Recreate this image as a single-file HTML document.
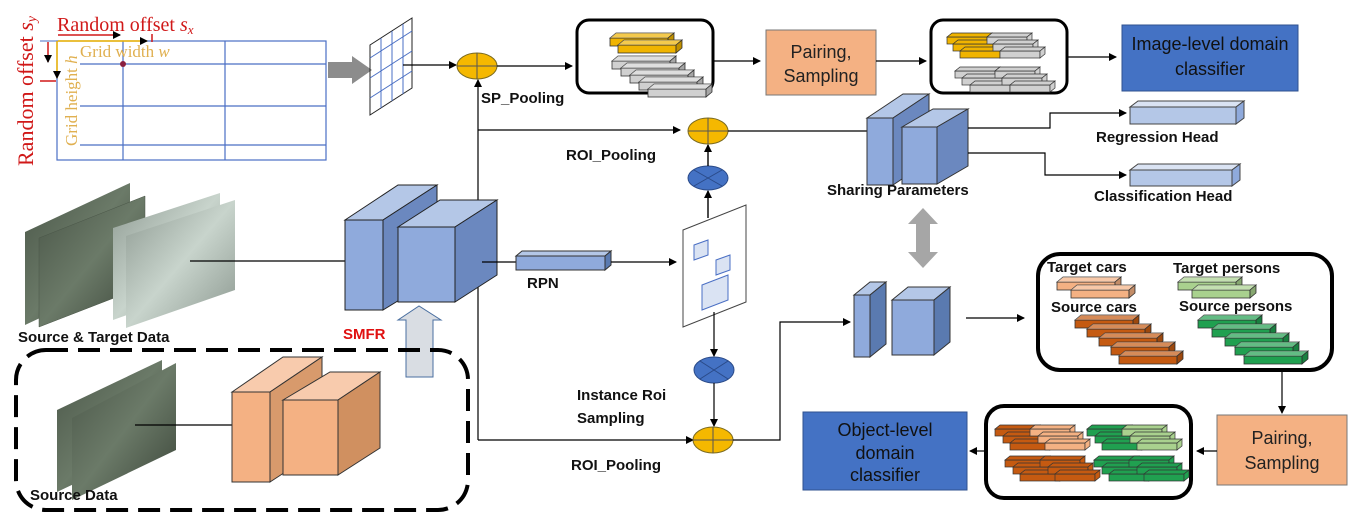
<!DOCTYPE html>
<html><head><meta charset="utf-8"><style>
html,body{margin:0;padding:0;background:#fff;}
svg{display:block;font-family:"Liberation Sans",Arial,sans-serif;}
.b{font-weight:bold;font-size:15px;fill:#111;}
.ser{font-family:"Liberation Serif",serif;}
</style></head><body>
<svg width="1356" height="522" viewBox="0 0 1356 522" xmlns="http://www.w3.org/2000/svg">
<defs>
<marker id="ah" markerWidth="8" markerHeight="8" refX="7" refY="4" orient="auto" markerUnits="userSpaceOnUse"><path d="M0,0 L8,4 L0,8 z" fill="#000"/></marker>
<symbol id="bar" overflow="visible"><rect x="0" y="5" width="58" height="8" fill="currentColor" stroke="#333" stroke-width="0.8"/><polygon points="0,5 6,0 64,0 58,5" fill="currentColor" stroke="#333" stroke-width="0.8"/><polygon points="0,5 6,0 64,0 58,5" fill="#fff" opacity="0.3"/><polygon points="58,5 64,0 64,8 58,13" fill="currentColor" stroke="#333" stroke-width="0.8"/><polygon points="58,5 64,0 64,8 58,13" fill="#000" opacity="0.2"/></symbol>
<symbol id="sbar" overflow="visible"><rect x="0" y="4" width="40" height="7" fill="currentColor" stroke="#333" stroke-width="0.7"/><polygon points="0,4 5,0 45,0 40,4" fill="currentColor" stroke="#333" stroke-width="0.7"/><polygon points="40,4 45,0 45,7 40,11" fill="currentColor" stroke="#333" stroke-width="0.7"/></symbol>
<linearGradient id="dk" x1="0" y1="0" x2="1" y2="1"><stop offset="0" stop-color="#4a5648"/><stop offset="0.5" stop-color="#6b7a68"/><stop offset="1" stop-color="#3a4438"/></linearGradient>
<linearGradient id="lt" x1="0" y1="0" x2="1" y2="1"><stop offset="0" stop-color="#8e9a92"/><stop offset="0.5" stop-color="#c8d4cc"/><stop offset="1" stop-color="#8a968e"/></linearGradient>
</defs>

<rect x="57" y="41" width="269" height="119" fill="none" stroke="#4a6fc4" stroke-width="1.2"/>
<line x1="123" y1="41" x2="123" y2="160" stroke="#4a6fc4" stroke-width="1.2"/>
<line x1="225" y1="41" x2="225" y2="160" stroke="#4a6fc4" stroke-width="1.2"/>
<line x1="80" y1="64" x2="326" y2="64" stroke="#4a6fc4" stroke-width="1.2"/>
<line x1="80" y1="106" x2="326" y2="106" stroke="#4a6fc4" stroke-width="1.2"/>
<line x1="80" y1="145" x2="326" y2="145" stroke="#4a6fc4" stroke-width="1.2"/>
<line x1="40" y1="41" x2="57" y2="41" stroke="#4a6fc4"/>
<circle cx="123" cy="64" r="3" fill="#8a2040"/>
<line x1="58" y1="35" x2="120" y2="35" stroke="#d01818" stroke-width="1.5" marker-end="url(#ah)"/>
<line x1="152" y1="34" x2="152" y2="42" stroke="#d01818" stroke-width="1.5"/>
<line x1="58" y1="41" x2="147" y2="41" stroke="#f0b400" stroke-width="1.5" marker-end="url(#ah)"/>
<line x1="57" y1="41" x2="57" y2="78" stroke="#f0b400" stroke-width="1.5" marker-end="url(#ah)"/>
<line x1="48" y1="42" x2="48" y2="62" stroke="#d01818" stroke-width="1.5" marker-end="url(#ah)"/>
<line x1="40" y1="81" x2="56" y2="81" stroke="#d01818" stroke-width="1.5"/>
<text x="57" y="31" class="ser" font-size="20" fill="#d01818">Random offset <tspan font-style="italic">s<tspan font-size="13" dy="3">x</tspan></tspan></text>
<text x="80" y="57" class="ser" font-size="17" fill="#e0b050">Grid width <tspan font-style="italic">w</tspan></text>
<text transform="translate(77,146) rotate(-90)" class="ser" font-size="17" fill="#e0b050">Grid height <tspan font-style="italic">h</tspan></text>
<text transform="translate(33,166) rotate(-90)" class="ser" font-size="22" fill="#d01818">Random offset <tspan font-style="italic">s<tspan font-size="14" dy="3">y</tspan></tspan></text>

<polygon points="328,62 352,62 352,56 372,70 352,84 352,78 328,78" fill="#8c8c8c"/>
<g stroke="#4a6fc4" stroke-width="1" fill="none">
<polygon points="370,45 412,18 412,88 370,115" stroke="#222"/>
<line x1="381" y1="38" x2="381" y2="108"/><line x1="392" y1="31" x2="392" y2="101"/><line x1="403" y1="24" x2="403" y2="94"/>
<line x1="370" y1="58" x2="412" y2="31"/><line x1="370" y1="78" x2="412" y2="51"/><line x1="370" y1="98" x2="412" y2="71"/>
</g>
<line x1="403" y1="65" x2="456" y2="65" stroke="#000" stroke-width="1.2" marker-end="url(#ah)"/>
<ellipse cx="477" cy="66" rx="20" ry="13" fill="#f5b800" stroke="#7a6a20"/>
<line x1="457" y1="66" x2="497" y2="66" stroke="#555"/><line x1="477" y1="53" x2="477" y2="79" stroke="#555"/>
<text x="481" y="103" class="b">SP_Pooling</text>
<line x1="497" y1="66" x2="572" y2="66" stroke="#000" stroke-width="1.2" marker-end="url(#ah)"/>

<rect x="577" y="20" width="136" height="73" rx="12" fill="#fff" stroke="#000" stroke-width="3"/>
<g color="#f0b400"><use href="#bar" x="610" y="33"/><use href="#bar" x="618" y="40"/></g>
<g color="#d0d0d0"><use href="#bar" x="612" y="56"/><use href="#bar" x="621" y="63"/><use href="#bar" x="630" y="70"/><use href="#bar" x="639" y="77"/><use href="#bar" x="648" y="84" /></g>
<line x1="713" y1="61" x2="760" y2="61" stroke="#000" stroke-width="1.2" marker-end="url(#ah)"/>
<rect x="766" y="30" width="110" height="65" fill="#f4b183" stroke="#777"/>
<text x="821" y="58" text-anchor="middle" font-size="18" fill="#222">Pairing,</text>
<text x="821" y="82" text-anchor="middle" font-size="18" fill="#222">Sampling</text>
<line x1="876" y1="61" x2="926" y2="61" stroke="#000" stroke-width="1.2" marker-end="url(#ah)"/>
<rect x="931" y="20" width="136" height="73" rx="12" fill="#fff" stroke="#000" stroke-width="3"/>
<g color="#f0b400"><use href="#sbar" x="947" y="33"/><use href="#sbar" x="953" y="40"/><use href="#sbar" x="960" y="47"/></g>
<g color="#d0d0d0"><use href="#sbar" x="987" y="33"/><use href="#sbar" x="993" y="40"/><use href="#sbar" x="1000" y="47"/></g>
<g color="#d0d0d0"><use href="#sbar" x="955" y="67"/><use href="#sbar" x="962" y="74"/><use href="#sbar" x="970" y="81"/><use href="#sbar" x="995" y="67"/><use href="#sbar" x="1002" y="74"/><use href="#sbar" x="1010" y="81"/></g>
<line x1="1067" y1="57" x2="1116" y2="57" stroke="#000" stroke-width="1.2" marker-end="url(#ah)"/>
<rect x="1122" y="25" width="176" height="66" fill="#4472c4" stroke="#2f528f"/>
<text x="1210" y="50" text-anchor="middle" font-size="18" fill="#111">Image-level domain</text>
<text x="1210" y="75" text-anchor="middle" font-size="18" fill="#111">classifier</text>

<polyline points="478,440 478,80" fill="none" stroke="#000" stroke-width="1.2" marker-end="url(#ah)"/>
<line x1="478" y1="130" x2="680" y2="130" stroke="#000" stroke-width="1.2" marker-end="url(#ah)"/>
<ellipse cx="708" cy="131" rx="20" ry="13" fill="#f5b800" stroke="#7a6a20"/>
<line x1="688" y1="131" x2="728" y2="131" stroke="#555"/><line x1="708" y1="118" x2="708" y2="144" stroke="#555"/>
<text x="566" y="160" class="b">ROI_Pooling</text>
<ellipse cx="708" cy="178" rx="20" ry="12" fill="#4472c4" stroke="#2a4a88"/>
<line x1="694" y1="170" x2="722" y2="186" stroke="#2a4a88"/><line x1="722" y1="170" x2="694" y2="186" stroke="#2a4a88"/>
<line x1="708" y1="166" x2="708" y2="145" stroke="#000" stroke-width="1.4" marker-end="url(#ah)"/>
<line x1="708" y1="218" x2="708" y2="191" stroke="#000" stroke-width="1.4" marker-end="url(#ah)"/>
<line x1="728" y1="131" x2="868" y2="131" stroke="#000" stroke-width="1.2"/>

<polygon points="867,118 903,94 929,94 893,118" fill="#b4c7e7" stroke="#333"/>
<rect x="867" y="118" width="26" height="67" fill="#8faadc" stroke="#333"/>
<polygon points="893,118 929,94 929,161 893,185" fill="#6b88bf" stroke="#333"/>
<polygon points="902,127 933,109 968,109 937,127" fill="#b4c7e7" stroke="#333"/>
<rect x="902" y="127" width="35" height="57" fill="#8faadc" stroke="#333"/>
<polygon points="937,127 968,109 968,166 937,184" fill="#6b88bf" stroke="#333"/>
<text x="827" y="195" class="b">Sharing Parameters</text>
<polyline points="968,128 1050,128 1050,113 1126,113" fill="none" stroke="#000" stroke-width="1.2" marker-end="url(#ah)"/>
<polyline points="968,153 1045,153 1045,175 1126,175" fill="none" stroke="#000" stroke-width="1.2" marker-end="url(#ah)"/>
<polygon points="1130,107 1138,101 1244,101 1236,107" fill="#dae3f3" stroke="#444"/>
<rect x="1130" y="107" width="106" height="17" fill="#b4c7e7" stroke="#444"/>
<polygon points="1236,107 1244,101 1244,118 1236,124" fill="#8faadc" stroke="#444"/>
<text x="1096" y="142" class="b">Regression Head</text>
<polygon points="1130,170 1138,164 1240,164 1232,170" fill="#dae3f3" stroke="#444"/>
<rect x="1130" y="170" width="102" height="16" fill="#b4c7e7" stroke="#444"/>
<polygon points="1232,170 1240,164 1240,180 1232,186" fill="#8faadc" stroke="#444"/>
<text x="1094" y="201" class="b">Classification Head</text>
<polygon points="923,208 938,224 930,224 930,252 938,252 923,268 908,252 916,252 916,224 908,224" fill="#a6a6a6"/>

<polygon points="25,232 130,183 130,276 25,325" fill="url(#dk)"/>
<polygon points="39,238 145,196 145,286 39,327" fill="url(#dk)" stroke="#4a5648" stroke-width="0.5"/>
<polygon points="113,320 113,228 220,193 220,282" fill="url(#lt)"/>
<polygon points="126,328 126,236 235,200 235,290" fill="url(#lt)"/>
<line x1="190" y1="261" x2="345" y2="261" stroke="#000" stroke-width="1.2"/>
<text x="18" y="342" class="b">Source &amp; Target Data</text>

<polygon points="345,220 398,185 437,185 383,220" fill="#b4c7e7" stroke="#222"/>
<rect x="345" y="220" width="38" height="90" fill="#8faadc" stroke="#222"/>
<polygon points="383,220 437,185 437,277 383,310" fill="#6b88bf" stroke="#222"/>
<polygon points="398,227 440,200 497,200 455,227" fill="#b4c7e7" stroke="#222"/>
<rect x="398" y="227" width="57" height="75" fill="#8faadc" stroke="#222"/>
<polygon points="455,227 497,200 497,275 455,302" fill="#6b88bf" stroke="#222"/>
<text x="343" y="339" font-weight="bold" font-size="15" fill="#e01010">SMFR</text>
<polygon points="406,377 406,320 398,320 419,306 441,320 433,320 433,377" fill="#d9dde3" stroke="#4a6fa0"/>

<line x1="482" y1="262" x2="516" y2="262" stroke="#000" stroke-width="1.2"/>
<polygon points="516,256 522,251 611,251 605,256" fill="#b4c7e7" stroke="#333"/>
<rect x="516" y="256" width="89" height="14" fill="#8faadc" stroke="#333"/>
<polygon points="605,256 611,251 611,265 605,270" fill="#5a7ab0" stroke="#333"/>
<text x="527" y="288" class="b">RPN</text>
<line x1="611" y1="262" x2="676" y2="262" stroke="#000" stroke-width="1.2" marker-end="url(#ah)"/>
<polygon points="683,230 746,205 746,302 683,327" fill="#fff" stroke="#444"/>
<polygon points="694,245 708,240 708,255 694,260" fill="#dae3f3" stroke="#4a6fc4"/>
<polygon points="716,260 730,255 730,270 716,275" fill="#dae3f3" stroke="#4a6fc4"/>
<polygon points="702,285 728,275 728,300 702,310" fill="#dae3f3" stroke="#4a6fc4"/>
<line x1="714" y1="312" x2="714" y2="356" stroke="#000" stroke-width="1.2" marker-end="url(#ah)"/>
<ellipse cx="714" cy="370" rx="20" ry="13" fill="#4472c4" stroke="#2a4a88"/>
<line x1="700" y1="361" x2="728" y2="379" stroke="#2a4a88"/><line x1="728" y1="361" x2="700" y2="379" stroke="#2a4a88"/>
<line x1="714" y1="383" x2="714" y2="426" stroke="#000" stroke-width="1.2" marker-end="url(#ah)"/>
<text x="577" y="400" class="b">Instance Roi</text>
<text x="577" y="423" class="b">Sampling</text>
<polyline points="478,440 693,440" fill="none" stroke="#000" stroke-width="1.2" marker-end="url(#ah)"/>
<ellipse cx="713" cy="440" rx="20" ry="13" fill="#f5b800" stroke="#7a6a20"/>
<line x1="693" y1="440" x2="733" y2="440" stroke="#555"/><line x1="713" y1="427" x2="713" y2="453" stroke="#555"/>
<text x="571" y="470" class="b">ROI_Pooling</text>
<polyline points="733,440 780,440 780,322 850,322" fill="none" stroke="#000" stroke-width="1.2" marker-end="url(#ah)"/>

<polygon points="854,295 870,282 886,282 870,295" fill="#b4c7e7" stroke="#333"/>
<rect x="854" y="295" width="16" height="62" fill="#8faadc" stroke="#333"/>
<polygon points="870,295 886,282 886,344 870,357" fill="#5a7ab0" stroke="#333"/>
<polygon points="892,300 908,287 950,287 934,300" fill="#b4c7e7" stroke="#333"/>
<rect x="892" y="300" width="42" height="55" fill="#8faadc" stroke="#333"/>
<polygon points="934,300 950,287 950,342 934,355" fill="#5a7ab0" stroke="#333"/>
<line x1="966" y1="318" x2="1024" y2="318" stroke="#000" stroke-width="1.2" marker-end="url(#ah)"/>

<rect x="1038" y="254" width="294" height="116" rx="22" fill="#fff" stroke="#000" stroke-width="4"/>
<text x="1047" y="272" class="b">Target cars</text>
<text x="1173" y="273" class="b">Target persons</text>
<text x="1051" y="312" class="b">Source cars</text>
<text x="1179" y="311" class="b">Source persons</text>
<g color="#f4b183"><use href="#bar" x="1057" y="277"/><use href="#bar" x="1071" y="285"/></g>
<g color="#a9d18e"><use href="#bar" x="1178" y="277"/><use href="#bar" x="1192" y="285"/></g>
<g color="#c55a11"><use href="#bar" x="1075" y="315"/><use href="#bar" x="1087" y="324"/><use href="#bar" x="1099" y="333"/><use href="#bar" x="1111" y="342"/><use href="#bar" x="1119" y="351"/></g>
<g color="#20a050"><use href="#bar" x="1198" y="315"/><use href="#bar" x="1212" y="324"/><use href="#bar" x="1225" y="333"/><use href="#bar" x="1235" y="342"/><use href="#bar" x="1244" y="351"/></g>
<line x1="1282" y1="372" x2="1282" y2="413" stroke="#000" stroke-width="1.2" marker-end="url(#ah)"/>
<rect x="1217" y="415" width="130" height="70" fill="#f4b183" stroke="#777"/>
<text x="1282" y="444" text-anchor="middle" font-size="18" fill="#222">Pairing,</text>
<text x="1282" y="469" text-anchor="middle" font-size="18" fill="#222">Sampling</text>
<line x1="1217" y1="451" x2="1197" y2="451" stroke="#000" stroke-width="1.2" marker-end="url(#ah)"/>
<rect x="986" y="406" width="205" height="92" rx="18" fill="#fff" stroke="#000" stroke-width="4"/>
<g color="#c55a11"><use href="#sbar" x="995" y="425"/><use href="#sbar" x="1003" y="432"/><use href="#sbar" x="1010" y="439"/></g>
<g color="#f4b183"><use href="#sbar" x="1030" y="425"/><use href="#sbar" x="1038" y="432"/><use href="#sbar" x="1045" y="439"/></g>
<g color="#20a050"><use href="#sbar" x="1087" y="425"/><use href="#sbar" x="1095" y="432"/><use href="#sbar" x="1102" y="439"/></g>
<g color="#a9d18e"><use href="#sbar" x="1122" y="425"/><use href="#sbar" x="1130" y="432"/><use href="#sbar" x="1137" y="439"/></g>
<g color="#c55a11"><use href="#sbar" x="1005" y="456"/><use href="#sbar" x="1013" y="463"/><use href="#sbar" x="1020" y="470"/><use href="#sbar" x="1040" y="456"/><use href="#sbar" x="1048" y="463"/><use href="#sbar" x="1055" y="470"/></g>
<g color="#20a050"><use href="#sbar" x="1094" y="456"/><use href="#sbar" x="1102" y="463"/><use href="#sbar" x="1109" y="470"/><use href="#sbar" x="1129" y="456"/><use href="#sbar" x="1137" y="463"/><use href="#sbar" x="1144" y="470"/></g>
<line x1="986" y1="451" x2="970" y2="451" stroke="#000" stroke-width="1.2" marker-end="url(#ah)"/>
<rect x="803" y="412" width="164" height="78" fill="#4472c4" stroke="#2f528f"/>
<text x="885" y="436" text-anchor="middle" font-size="18" fill="#111">Object-level</text>
<text x="885" y="459" text-anchor="middle" font-size="18" fill="#111">domain</text>
<text x="885" y="481" text-anchor="middle" font-size="18" fill="#111">classifier</text>

<rect x="16" y="350" width="452" height="160" rx="30" fill="none" stroke="#000" stroke-width="4" stroke-dasharray="22,10"/>
<polygon points="57,492 57,410 162,360 162,442" fill="url(#dk)"/>
<polygon points="72,500 72,418 176,363 176,450" fill="url(#dk)"/>
<line x1="135" y1="425" x2="232" y2="425" stroke="#000" stroke-width="1.2"/>
<text x="30" y="500" class="b">Source Data</text>
<polygon points="232,392 283,357 322,357 270,392" fill="#f8cbad" stroke="#333"/>
<rect x="232" y="392" width="38" height="90" fill="#f4b183" stroke="#333"/>
<polygon points="270,392 322,357 322,448 270,482" fill="#d89a6c" stroke="#333"/>
<polygon points="283,400 330,372 380,372 338,400" fill="#f8cbad" stroke="#333"/>
<rect x="283" y="400" width="55" height="75" fill="#f4b183" stroke="#333"/>
<polygon points="338,400 380,372 380,448 338,475" fill="#d09060" stroke="#333"/>
</svg>
</body></html>
